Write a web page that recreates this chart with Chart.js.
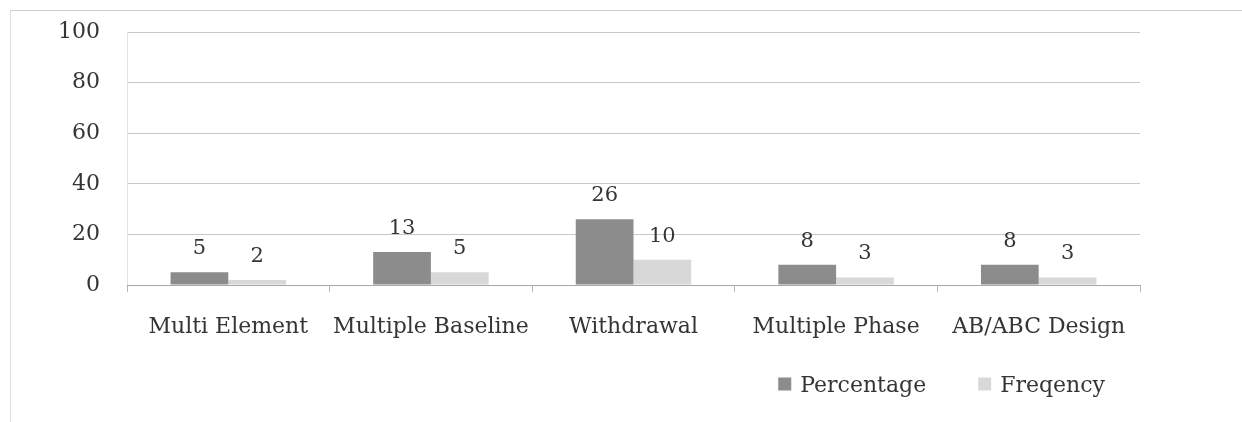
<!DOCTYPE html>
<html>
<head>
<meta charset="utf-8">
<script src="https://cdn.jsdelivr.net/npm/chart.js@4"></script>
<style>
  html, body { margin: 0; padding: 0; background: #fff; }
  #wrap { position: relative; width: 1242px; height: 422px; overflow: hidden; }
  #frame { position: absolute; left: 10px; top: 10px; right: 0; bottom: 0;
           border-top: 1px solid #cfcfcf; border-left: 1px solid #dcdcdc; }
  canvas { position: absolute; left: 0; top: 0; }
</style>
</head>
<body>
<div id="wrap">
  <div id="frame"></div>
  <canvas id="c" width="1242" height="422"></canvas>
</div>
<script>
// Research designs and how often each appears
const categories = ['Multi Element', 'Multiple Baseline', 'Withdrawal', 'Multiple Phase', 'AB/ABC Design'];
const percentage = [5, 13, 26, 8, 8];
const frequency = [2, 5, 10, 3, 3];
const yTicks = [0, 20, 40, 60, 80, 100];
const seriesNames = ['Percentage', 'Freqency'];

const FONT = 'DejaVu Serif';
const TEXT = '#353535';

// Value labels above each bar
const valueLabels = {
  id: 'valueLabels',
  afterDatasetsDraw(chart) {
    const ctx = chart.ctx;
    ctx.save();
    ctx.font = '21px "' + FONT + '"';
    ctx.fillStyle = TEXT;
    ctx.textAlign = 'center';
    ctx.textBaseline = 'bottom';
    chart.data.datasets.forEach((ds, i) => {
      chart.getDatasetMeta(i).data.forEach((el, j) => {
        ctx.fillText(String(ds.data[j]), el.x, el.y - 13);
      });
    });
    ctx.restore();
  }
};

// Legend in the lower right corner
const cornerLegend = {
  id: 'cornerLegend',
  afterDraw(chart) {
    const ctx = chart.ctx;
    const area = chart.chartArea;
    ctx.save();
    ctx.font = '22px "' + FONT + '"';
    ctx.textBaseline = 'middle';
    const box = 13, gap = 9, itemGap = 52;
    const y = area.bottom + 101;
    const widths = chart.data.datasets.map(ds => ctx.measureText(ds.label).width);
    let total = 0;
    widths.forEach((w, i) => { total += box + gap + w + (i ? itemGap : 0); });
    let x = area.right - 35 - total;
    chart.data.datasets.forEach((ds, i) => {
      if (i) x += itemGap;
      ctx.fillStyle = ds.backgroundColor;
      ctx.fillRect(x, y - box / 2 - 2, box, box);
      x += box + gap;
      ctx.fillStyle = TEXT;
      ctx.fillText(ds.label, x, y);
      x += widths[i];
    });
    ctx.restore();
  }
};

new Chart(document.getElementById('c'), {
  type: 'bar',
  data: {
    labels: categories,
    datasets: [
      { label: seriesNames[0], data: percentage, backgroundColor: '#8c8c8c' },
      { label: seriesNames[1], data: frequency, backgroundColor: '#d8d8d8' }
    ]
  },
  options: {
    responsive: false,
    animation: false,
    devicePixelRatio: 1,
    categoryPercentage: 0.57,
    barPercentage: 1,
    layout: { padding: { left: 10, top: 32, right: 102, bottom: 0 } },
    plugins: { legend: { display: false }, tooltip: { enabled: false } },
    scales: {
      y: {
        min: 0, max: 100,
        afterBuildTicks(s) { s.ticks = yTicks.map(v => ({ value: v })); },
        afterFit(s) { s.width = 117; s.paddingTop = 0; s.paddingBottom = 0; },
        ticks: { color: TEXT, font: { family: FONT, size: 22 }, padding: 27 },
        grid: { color: '#c8c8c8', drawTicks: false },
        border: { display: true, color: '#e2e2e2' }
      },
      x: {
        afterFit(s) { s.height = 137; s.paddingLeft = 0; s.paddingRight = 0; },
        ticks: { color: TEXT, font: { family: FONT, size: 22 }, padding: 22 },
        grid: { offset: true, drawOnChartArea: false, tickLength: 7, color: '#b5b5b5' },
        border: { display: true, color: '#a8a8a8' }
      }
    }
  },
  plugins: [valueLabels, cornerLegend]
});
</script>
</body>
</html>
